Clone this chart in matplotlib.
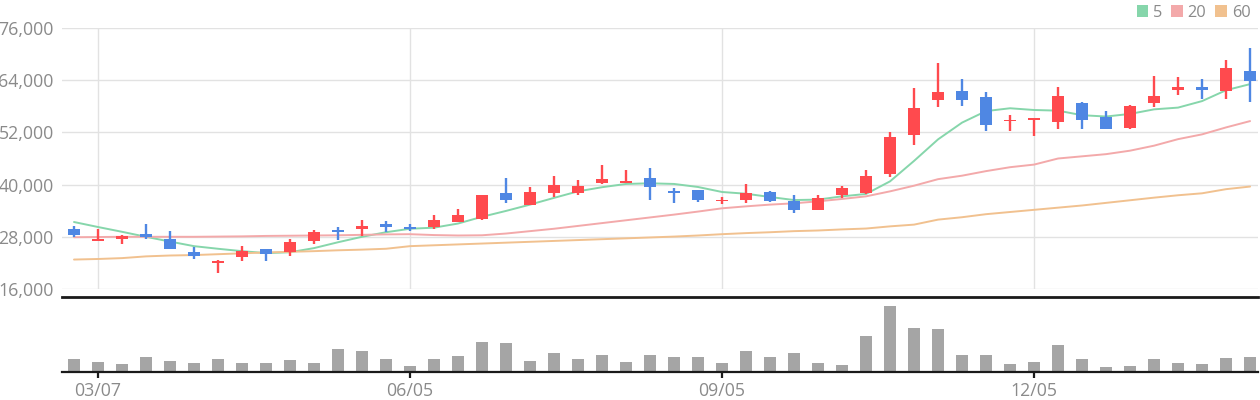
import matplotlib
matplotlib.use("Agg")
import matplotlib.pyplot as plt
from matplotlib.patches import Patch
from matplotlib.ticker import FuncFormatter

# ---------------- data (weekly candles) ----------------
open_ = [29900, 27000, 27450, 28750, 27600, 24600, 21900, 23300, 25100, 24400,
         27000, 29450, 29700, 30850, 30150, 30150, 31500, 32200, 38150, 35400,
         38150, 38150, 40450, 40450, 41600, 38600, 38850, 36200, 36400, 38350,
         36300, 34250, 37700, 38150, 42500, 51400, 59400, 61500, 60100, 54600,
         54950, 54500, 58750, 55550, 52900, 58850, 61800, 62400, 61500, 66050]
high = [30400, 29900, 28300, 30850, 29250, 25750, 22750, 26000, 25100, 27400,
        29450, 30150, 31750, 31550, 30850, 32900, 34500, 37700, 41600, 39550,
        42050, 41150, 44600, 43450, 43900, 39300, 38850, 37250, 40200, 38600,
        37700, 37700, 39750, 43400, 52100, 62150, 67900, 64250, 61250, 56000,
        55350, 62400, 59000, 56950, 58300, 64900, 64700, 64250, 68550, 71300]
low = [27900, 27000, 26300, 27600, 25100, 23000, 19750, 22550, 22550, 23700,
       26250, 27150, 28100, 29000, 29250, 29900, 31300, 31950, 35850, 35400,
       37250, 37700, 40250, 40450, 36350, 35850, 36100, 35650, 35700, 36100,
       33550, 34050, 37000, 37900, 41800, 49150, 57800, 58050, 52350, 52250,
       51100, 52700, 52700, 52700, 52700, 57900, 60600, 59650, 59650, 59000]
close = [28400, 27400, 28150, 27850, 25300, 23700, 22550, 24850, 24150, 26700,
         29000, 29100, 30400, 30150, 29700, 31950, 32900, 37700, 36350, 38400,
         40000, 39750, 41400, 40900, 39550, 38150, 36550, 36550, 38150, 36300,
         34050, 37000, 39300, 42050, 50950, 57600, 61250, 59400, 53700, 54850,
         55350, 60350, 54950, 52700, 58050, 60350, 62400, 61800, 66750, 63750]

ma5 = [31400, 30250, 29150, 28000, 26900, 25850, 25250, 24700, 24250, 24450,
       25400, 26750, 28000, 29050, 29850, 30100, 31050, 32600, 33950, 35400,
       36950, 38450, 39400, 40150, 40300, 40150, 39450, 38300, 37900, 37150,
       36450, 36550, 37300, 37850, 40750, 45450, 50400, 54250, 56900, 57550,
       57150, 57000, 55950, 55650, 56250, 57300, 57700, 59200, 61700, 63100]
ma20 = [27900, 27950, 28000, 28000, 28000, 28000, 28050, 28100, 28200, 28250,
        28300, 28350, 28450, 28550, 28600, 28400, 28300, 28350, 28750, 29300,
        29850, 30500, 31150, 31800, 32450, 33100, 33800, 34550, 35000, 35400,
        35700, 36150, 36700, 37300, 38450, 39750, 41250, 42050, 43100, 44000,
        44600, 46000, 46500, 47000, 47800, 48950, 50450, 51550, 53150, 54600]
ma60 = [22770, 22900, 23100, 23500, 23700, 23800, 24000, 24200, 24400, 24550,
        24700, 24900, 25050, 25250, 25850, 26050, 26250, 26450, 26650, 26850,
        27050, 27250, 27450, 27650, 27850, 28050, 28300, 28600, 28850, 29050,
        29300, 29450, 29700, 29900, 30400, 30800, 31950, 32500, 33200, 33700,
        34200, 34700, 35200, 35800, 36400, 37000, 37550, 38000, 38950, 39550]

volume = [40, 31, 25, 46, 34, 28, 40, 28, 28, 37,
          28, 70, 64, 40, 19, 40, 49, 91, 88, 34,
          58, 40, 52, 31, 52, 46, 46, 28, 64, 46,
          58, 28, 22, 109, 196, 130, 127, 52, 52, 25,
          31, 82, 40, 16, 19, 40, 28, 25, 43, 46]

tick_pos = [1, 14, 27, 40]
tick_labels = ['03/07', '06/05', '09/05', '12/05']
price_ticks = [16000, 28000, 40000, 52000, 64000, 76000]
ma_names = ['5', '20', '60']

# ---------------- style ----------------
UP = '#ff4a4e'
DOWN = '#4f87e3'
MA_COLORS = ['#86d6ab', '#f3a9aa', '#f1c18f']
GRID = '#e2e2e2'
TXT = '#8a8a8a'
VOL = '#a5a5a5'
plt.rcParams['font.family'] = ['Open Sans', 'DejaVu Sans']

W, H = 1260, 400
fig = plt.figure(figsize=(W / 100, H / 100), dpi=100)
left, right = 62, 1258
ax = fig.add_axes([left / W, 1 - 289 / H, (right - left) / W, (289 - 28) / H])
axv = fig.add_axes([left / W, 1 - 372 / H, (right - left) / W, (372 - 297) / H])

n = len(close)
x = list(range(n))
xlim = (-0.5, 49.33)

# ---- price panel ----
ax.set_xlim(*xlim)
ax.set_ylim(price_ticks[0], price_ticks[-1])
ax.set_yticks(price_ticks)
ax.yaxis.set_major_formatter(FuncFormatter(lambda v, p: f'{int(v):,}'))
ax.set_xticks(tick_pos)
ax.tick_params(axis='x', length=0, labelbottom=False)
ax.tick_params(axis='y', length=0, pad=6, labelsize=12.8, labelcolor=TXT)
ax.grid(True, color=GRID, linewidth=1.0)
ax.set_axisbelow(True)
for s in ax.spines.values():
    s.set_visible(False)

handles = []
for vals, col, name in zip([ma5, ma20, ma60], MA_COLORS, ma_names):
    ax.plot(x, vals, color=col, linewidth=1.4, zorder=2, solid_capstyle='round')
    handles.append(Patch(facecolor=col, edgecolor='none', label=name))

colors = [UP if c >= o else DOWN for o, c in zip(open_, close)]
ax.vlines(x, low, high, colors=colors, linewidth=1.7, zorder=3)
bottoms = [min(o, c) for o, c in zip(open_, close)]
heights = [max(abs(c - o), 350) for o, c in zip(open_, close)]
ax.bar(x, heights, bottom=bottoms, width=0.5, color=colors, zorder=4, linewidth=0)

leg = ax.legend(handles=handles, loc='lower right', bbox_to_anchor=(1.0, 1.0),
                ncol=3, frameon=False, handlelength=0.7, handleheight=0.7,
                handletextpad=0.3, columnspacing=0.55, borderaxespad=0.45,
                borderpad=0.0, fontsize=11.8)
for t in leg.get_texts():
    t.set_color(TXT)

# ---- volume panel ----
axv.set_xlim(*xlim)
axv.bar(x, volume, width=0.5, color=VOL, linewidth=0)
axv.set_ylim(0, max(volume) * 224 / 196)
axv.set_yticks([])
axv.set_xticks(tick_pos)
axv.set_xticklabels(tick_labels)
axv.tick_params(axis='x', length=4, width=1.6, color='#1a1a1a', pad=3,
                labelsize=12.8, labelcolor=TXT)
for k in ['left', 'right']:
    axv.spines[k].set_visible(False)
axv.spines['top'].set_linewidth(2.0)
axv.spines['top'].set_color('#1a1a1a')
axv.spines['bottom'].set_linewidth(1.6)
axv.spines['bottom'].set_color('#1a1a1a')

fig.savefig('out.png', dpi=100)
